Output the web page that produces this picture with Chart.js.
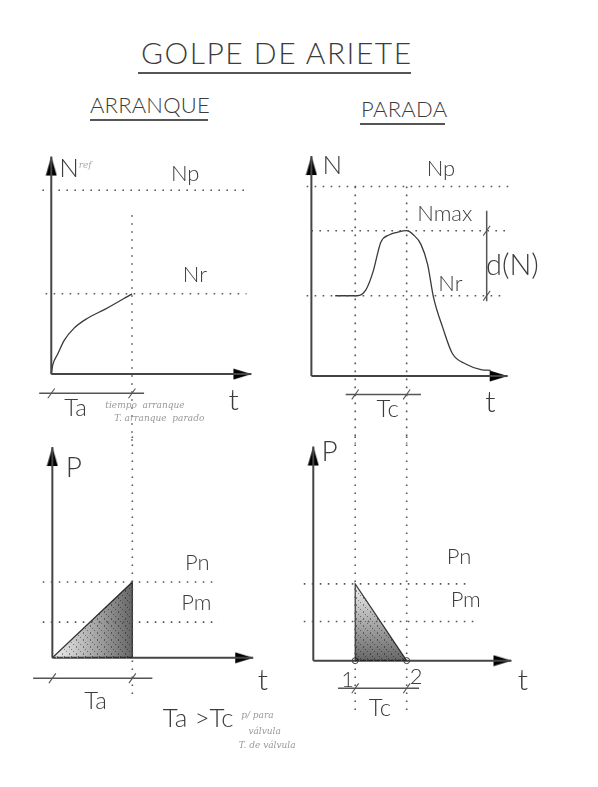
<!DOCTYPE html>
<html>
<head>
<meta charset="utf-8">
<script src="https://cdn.jsdelivr.net/npm/chart.js@4.4.1/dist/chart.umd.min.js"></script>
<style>
  body { margin: 0; background: #fff; }
  #page { position: relative; width: 598px; height: 787px; overflow: hidden;
          font-family: 'Lato', 'DejaVu Sans Condensed', sans-serif; font-weight: 300; color: #3c3c3c; }
  .hd { position: absolute; white-space: nowrap; line-height: 1; }
  .rule { position: absolute; height: 2px; background: #555; }
  canvas { position: absolute; }
</style>
</head>
<body>
<div id="page">
  <div class="hd" style="left:141px;top:37px;font-size:30px;letter-spacing:1.5px;">GOLPE DE ARIETE</div>
  <div class="rule" style="left:138px;top:72px;width:273px;"></div>
  <div class="hd" style="left:90px;top:94px;font-size:22px;letter-spacing:0.2px;">ARRANQUE</div>
  <div class="rule" style="left:90px;top:119px;width:118px;"></div>
  <div class="hd" style="left:361px;top:98px;font-size:22px;letter-spacing:0.3px;">PARADA</div>
  <div class="rule" style="left:360px;top:123px;width:85px;"></div>

  <canvas id="arrN"></canvas>
  <canvas id="parN"></canvas>
  <canvas id="arrP"></canvas>
  <canvas id="parP"></canvas>
</div>

<script>
// ---- ARRANQUE: velocidad (N) sube hasta Nr en el tiempo Ta
const arrT  = [0, 0.02, 0.08, 0.16, 0.28, 0.44, 0.67, 1];
const arrN  = [0, 0.12, 0.25, 0.42, 0.57, 0.69, 0.81, 1];
const arrTa = 1;
const arrNp = 2.29;
const arrNr = 1;

// ---- PARADA: sobrevelocidad hasta Nmax y caida
const parT = [0.5, 0.96, 1.14, 1.30, 1.40, 1.46, 1.64, 1.80, 2.00, 2.14, 2.30, 2.44, 2.56, 2.76, 2.96, 3.24, 3.56, 3.76];
const parN = [1, 1, 1.07, 1.31, 1.55, 1.67, 1.76, 1.79, 1.81, 1.76, 1.64, 1.39, 0.99, 0.60, 0.28, 0.15, 0.08, 0.07];
const parT1 = 0.92, parT2 = 2.0;   // inicio / fin de Tc
const parNp = 2.36, parNmax = 1.81, parNr = 1;

// ---- presiones
const arrPn = 1, arrPm = 0.47;
const parPt1 = 0.88, parPt2 = 1.96;
const parPn = 1, parPm = 0.51;

const INK = '#3a3a3a';
const DOT = '#555';
const FONT = "'Lato', 'DejaVu Sans Condensed', sans-serif";
const f = (px) => '300 ' + px + 'px ' + FONT;
const SCRIBBLE = "italic 9px 'DejaVu Serif', serif";

// arrow heads: tip sits at image centre
function arrow(dir) {
  const c = document.createElement('canvas');
  const g = c.getContext('2d');
  g.fillStyle = '#333';
  g.beginPath();
  if (dir === 'up') {
    c.width = 12; c.height = 40;
    g.moveTo(6, 20); g.lineTo(0.5, 39); g.lineTo(11.5, 39);
  } else {
    c.width = 40; c.height = 12;
    g.moveTo(20, 6); g.lineTo(2, 0.5); g.lineTo(2, 11.5);
  }
  g.closePath(); g.fill();
  return c;
}
const UP = arrow('up'), RIGHT = arrow('right');

// speckle texture for the shaded pressure triangles
const speckle = (() => {
  const c = document.createElement('canvas');
  c.width = 7; c.height = 7;
  const g = c.getContext('2d');
  g.fillStyle = 'rgba(255,255,255,0.75)';
  [[1,1],[4,3],[2,5],[6,6],[5,0]].forEach(([x, y]) => g.fillRect(x, y, 1, 1));
  g.fillStyle = 'rgba(0,0,0,0.4)';
  [[3,0],[0,4],[5,2],[3,6]].forEach(([x, y]) => g.fillRect(x, y, 1, 1));
  return c;
})();

const pts = (xs, ys) => xs.map((x, i) => ({ x, y: ys[i] }));

function line(a, b, extra) {
  return Object.assign({
    data: [a, b], showLine: true, pointRadius: 0,
    borderColor: INK, borderWidth: 1.5, fill: false
  }, extra);
}
const dotted = (a, b) => line(a, b, { borderColor: DOT, borderWidth: 1.6, borderDash: [1.6, 6.4] });

function axes(xEnd, yTop) {
  return [
    line({ x: 0, y: 0 }, { x: 0, y: yTop }, { borderWidth: 2, borderColor: '#444' }),
    line({ x: 0, y: 0 }, { x: xEnd, y: 0 }, { borderWidth: 2, borderColor: '#444' }),
    { data: [{ x: 0, y: yTop }], showLine: false, pointStyle: UP, pointRadius: 6 },
    { data: [{ x: xEnd, y: 0 }], showLine: false, pointStyle: RIGHT, pointRadius: 6 }
  ];
}

function dimension(x0, x1, y, ticks) {
  return [
    line({ x: x0, y }, { x: x1, y }, { borderWidth: 1.5, borderColor: '#555' }),
    { data: ticks.map(x => ({ x, y })), showLine: false, pointStyle: 'line',
      rotation: -55, pointRadius: 6, pointBorderWidth: 1.1, pointBorderColor: '#555' }
  ];
}

const notes = {
  id: 'notes',
  afterDatasetsDraw(chart, args, opts) {
    const { ctx, scales: { x, y } } = chart;
    ctx.save();
    ctx.textBaseline = 'middle';
    for (const n of opts.items || []) {
      ctx.font = n.font;
      ctx.fillStyle = n.color || '#3c3c3c';
      ctx.textAlign = n.align || 'center';
      ctx.fillText(n.text, x.getPixelForValue(n.x), y.getPixelForValue(n.y));
    }
    ctx.restore();
  }
};

function panel(id, box, datasets, items) {
  const cv = document.getElementById(id);
  cv.width = box.w; cv.height = box.h;
  cv.style.left = box.left + 'px'; cv.style.top = box.top + 'px';
  return new Chart(cv, {
    type: 'scatter',
    data: { datasets },
    options: {
      responsive: false, animation: false, events: [],
      layout: { padding: 0 },
      elements: { line: { tension: 0 } },
      scales: {
        x: { type: 'linear', display: false, min: (box.left - box.ox) / box.sx, max: (box.left + box.w - box.ox) / box.sx },
        y: { type: 'linear', display: false, min: (box.oy - box.top - box.h) / box.sy, max: (box.oy - box.top) / box.sy }
      },
      datasets: { scatter: { clip: false } },
      plugins: { legend: { display: false }, tooltip: { enabled: false }, notes: { items } }
    },
    plugins: [notes]
  });
}

const shade = (from, to, vertical) => (c) => {
  const { chart } = c;
  const { x, y } = chart.scales;
  if (!chart.chartArea) return 'rgba(0,0,0,0.3)';
  const g = vertical
    ? chart.ctx.createLinearGradient(0, y.getPixelForValue(from), 0, y.getPixelForValue(to))
    : chart.ctx.createLinearGradient(x.getPixelForValue(from), 0, x.getPixelForValue(to), 0);
  g.addColorStop(0, 'rgba(0,0,0,0.06)');
  g.addColorStop(1, 'rgba(0,0,0,0.6)');
  return g;
};

// ---------- ARRANQUE, N(t)
const boxA = { left: 10, top: 130, w: 280, h: 320, ox: 46, oy: 378, sx: 85, sy: 84 };
panel('arrN', boxA, [
  dotted({ x: -0.11, y: arrNp }, { x: 2.42, y: arrNp }),
  dotted({ x: -0.07, y: arrNr }, { x: 2.42, y: arrNr }),
  dotted({ x: arrTa, y: 1.98 }, { x: arrTa, y: -0.86 }),
  ...axes(2.48, 2.71),
  { data: pts(arrT, arrN), showLine: true, pointRadius: 0, borderColor: INK, borderWidth: 1.3, tension: 0.4, cubicInterpolationMode: 'monotone' },
  ...dimension(-0.15, 1.15, -0.24, [0, arrTa])
], [
  { text: 'N', x: 0.22, y: 2.56, font: f(26) },
  { text: 'ref', x: 0.42, y: 2.6, font: SCRIBBLE, color: '#aaa' },
  { text: 'Np', x: 1.66, y: 2.5, font: f(22) },
  { text: 'Nr', x: 1.78, y: 1.23, font: f(22) },
  { text: 'Ta', x: 0.3, y: -0.42, font: f(24) },
  { text: 't', x: 2.26, y: -0.33, font: f(30) },
  { text: 'tiempo  arranque', x: 0.67, y: -0.39, font: SCRIBBLE, color: '#999', align: 'left' },
  { text: 'T. arranque  parado', x: 0.78, y: -0.56, font: SCRIBBLE, color: '#999', align: 'left' }
]);

// ---------- PARADA, N(t)
const boxB = { left: 290, top: 130, w: 300, h: 320, ox: 305, oy: 380, sx: 50, sy: 84 };
panel('parN', boxB, [
  dotted({ x: -0.1, y: parNp }, { x: 4.14, y: parNp }),
  dotted({ x: 0, y: parNmax }, { x: 4.1, y: parNmax }),
  dotted({ x: -0.1, y: parNr }, { x: 4.05, y: parNr }),
  dotted({ x: parT1, y: parNp }, { x: parT1, y: -0.84 }),
  dotted({ x: parT2, y: parNp }, { x: parT2, y: -0.84 }),
  ...axes(4.12, 2.74),
  { data: pts(parT, parN), showLine: true, pointRadius: 0, borderColor: INK, borderWidth: 1.3, tension: 0.4, cubicInterpolationMode: 'monotone' },
  line({ x: 3.68, y: 2.06 }, { x: 3.68, y: 0.93 }, { borderWidth: 1.5, borderColor: '#555' }),
  { data: [{ x: 3.68, y: parNmax }, { x: 3.68, y: parNr }], showLine: false, pointStyle: 'line',
    rotation: -55, pointRadius: 6, pointBorderWidth: 1.1, pointBorderColor: '#555' },
  ...dimension(0.72, 2.3, -0.23, [parT1, parT2])
], [
  { text: 'N', x: 0.44, y: 2.62, font: f(26) },
  { text: 'Np', x: 2.72, y: 2.58, font: f(22) },
  { text: 'Nmax', x: 2.8, y: 2.02, font: f(22) },
  { text: 'Nr', x: 2.92, y: 1.15, font: f(22) },
  { text: 'd(N)', x: 4.22, y: 1.38, font: f(29) },
  { text: 'Tc', x: 1.6, y: -0.42, font: f(24) },
  { text: 't', x: 3.76, y: -0.33, font: f(30) }
]);

// ---------- ARRANQUE, P(t)
const boxC = { left: 10, top: 430, w: 300, h: 350, ox: 47, oy: 660, sx: 84, sy: 79 };
const triC = [{ x: 0, y: 0 }, { x: arrTa, y: arrPn }, { x: arrTa, y: 0 }];
panel('arrP', boxC, [
  dotted({ x: -0.12, y: arrPn }, { x: 2.0, y: arrPn }),
  dotted({ x: -0.12, y: arrPm }, { x: 2.08, y: arrPm }),
  dotted({ x: arrTa, y: 2.92 }, { x: arrTa, y: -0.5 }),
  { data: triC, showLine: true, pointRadius: 0, borderWidth: 0, fill: 'origin', backgroundColor: shade(0, arrTa, false) },
  { data: triC, showLine: true, pointRadius: 0, borderWidth: 1.2, borderColor: INK, fill: 'origin', backgroundColor: (c) => c.chart.ctx.createPattern(speckle, 'repeat') },
  ...axes(2.51, 2.78),
  ...dimension(-0.24, 1.25, -0.27, [0, arrTa])
], [
  { text: 'P', x: 0.27, y: 2.5, font: f(28) },
  { text: 'Pn', x: 1.81, y: 1.25, font: f(22) },
  { text: 'Pm', x: 1.8, y: 0.72, font: f(22) },
  { text: 'Ta', x: 0.54, y: -0.57, font: f(24) },
  { text: 't', x: 2.63, y: -0.3, font: f(30) },
  { text: 'Ta >Tc', x: 1.38, y: -0.8, font: f(26), align: 'left' },
  { text: 'p/ para', x: 2.36, y: -0.76, font: SCRIBBLE, color: '#999', align: 'left' },
  { text: 'válvula', x: 2.45, y: -0.97, font: SCRIBBLE, color: '#999', align: 'left' },
  { text: 'T. de válvula', x: 2.33, y: -1.16, font: SCRIBBLE, color: '#999', align: 'left' }
]);

// ---------- PARADA, P(t)
const boxD = { left: 290, top: 430, w: 300, h: 350, ox: 307, oy: 663, sx: 50, sy: 80 };
const triD = [{ x: parPt1, y: 0 }, { x: parPt1, y: parPn }, { x: parPt2, y: 0 }];
panel('parP', boxD, [
  dotted({ x: -0.2, y: parPn }, { x: 3.3, y: parPn }),
  dotted({ x: -0.2, y: parPm }, { x: 3.46, y: parPm }),
  dotted({ x: parPt1, y: 2.92 }, { x: parPt1, y: -0.71 }),
  dotted({ x: parPt2, y: 2.92 }, { x: parPt2, y: -0.71 }),
  { data: triD, showLine: true, pointRadius: 0, borderWidth: 0, fill: 'origin', backgroundColor: shade(parPn, 0, true) },
  { data: triD, showLine: true, pointRadius: 0, borderWidth: 1.2, borderColor: INK, fill: 'origin', backgroundColor: (c) => c.chart.ctx.createPattern(speckle, 'repeat') },
  ...axes(4.16, 2.79),
  { data: [{ x: parPt1, y: 0 }, { x: parPt2, y: 0 }], showLine: false, pointStyle: 'circle',
    pointRadius: 3, pointBackgroundColor: '#fff', pointBorderColor: INK, pointBorderWidth: 1 },
  ...dimension(0.52, 2.22, -0.36, [parPt1, parPt2])
], [
  { text: 'P', x: 0.34, y: 2.72, font: f(28) },
  { text: 'Pn', x: 3.06, y: 1.35, font: f(22) },
  { text: 'Pm', x: 3.2, y: 0.79, font: f(22) },
  { text: '1', x: 0.72, y: -0.25, font: f(22) },
  { text: '2', x: 2.16, y: -0.21, font: f(22) },
  { text: 'Tc', x: 1.4, y: -0.62, font: f(24) },
  { text: 't', x: 4.4, y: -0.25, font: f(30) }
]);
</script>
</body>
</html>
